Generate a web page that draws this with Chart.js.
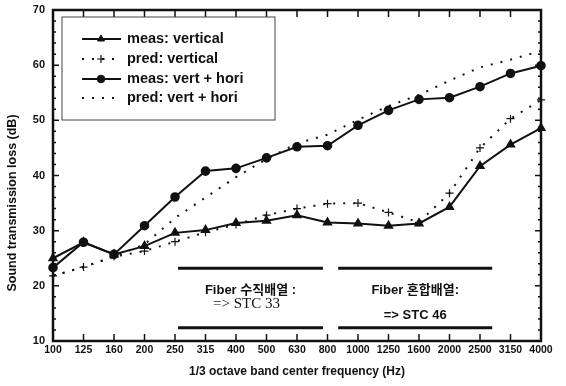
<!DOCTYPE html>
<html>
<head>
<meta charset="utf-8">
<script src="https://cdn.jsdelivr.net/npm/chart.js@4.4.1/dist/chart.umd.min.js"></script>
<style>
  html, body { margin: 0; padding: 0; background: #fff; }
  #wrap { width: 566px; height: 386px; }
</style>
</head>
<body>
<div id="wrap"><canvas id="tlChart"></canvas></div>
<script>
// 1/3 octave band centre frequencies
const freqLabels = ["100", "125", "160", "200", "250", "315", "400", "500", "630",
                    "800", "1000", "1250", "1600", "2000", "2500", "3150", "4000"];

// sound transmission loss (dB)
const measVertical = [25.0, 27.9, 25.7, 27.2, 29.6, 30.1, 31.4, 31.8, 32.8, 31.5, 31.3, 30.9, 31.3, 34.3, 41.7, 45.6, 48.6];
const predVertical = [21.8, 23.4, 25.3, 26.3, 28.0, 29.7, 31.1, 32.8, 34.0, 34.9, 35.0, 33.3, 31.5, 36.8, 45.0, 50.3, 53.7];
const measVertHori = [23.3, 27.9, 25.7, 30.9, 36.1, 40.8, 41.3, 43.2, 45.2, 45.4, 49.1, 51.8, 53.8, 54.1, 56.1, 58.5, 59.9];
const predVertHori = [21.8, 23.4, 25.3, 27.5, 32.3, 36.0, 39.7, 43.0, 45.8, 47.4, 50.1, 52.6, 54.6, 57.2, 59.6, 61.0, 62.6];

const seriesNames = ["meas: vertical", "pred: vertical", "meas: vert + hori", "pred: vert + hori"];
const yTitle = "Sound transmission loss (dB)";

// text boxes inside the plot
const noteLines = [
  ["Fiber 수직배열 :", "=> STC 33"],
  ["Fiber 혼합배열:", "=> STC 46"]
];

const INK = "#111";
const FONT = "'Liberation Sans', Arial, 'Noto Sans CJK KR', sans-serif";

// frame, inner ticks, y title, legend box and the two STC notes
const decorPlugin = {
  id: "decor",
  afterDraw(chart) {
    const ctx = chart.ctx;
    const area = chart.chartArea;
    const xs = chart.scales.x;
    const ys = chart.scales.y;
    ctx.save();
    ctx.strokeStyle = INK;

    // ticks
    ctx.lineWidth = 1.5;
    ctx.beginPath();
    for (let i = 0; i < freqLabels.length; i++) {
      const px = xs.getPixelForValue(i);
      ctx.moveTo(px, area.bottom); ctx.lineTo(px, area.bottom - 7);
      ctx.moveTo(px, area.top); ctx.lineTo(px, area.top + 7);
    }
    for (let v = 10; v <= 70; v += 2) {
      const py = ys.getPixelForValue(v);
      const len = v % 10 === 0 ? 6 : 3;
      ctx.moveTo(area.left, py); ctx.lineTo(area.left + len, py);
      ctx.moveTo(area.right, py); ctx.lineTo(area.right - len, py);
    }
    ctx.stroke();

    // frame
    ctx.lineWidth = 2.5;
    ctx.strokeRect(area.left, area.top, area.right - area.left, area.bottom - area.top);

    // y axis title
    ctx.save();
    ctx.translate(13, 203);
    ctx.rotate(-Math.PI / 2);
    ctx.fillStyle = INK;
    ctx.font = "bold 12.5px " + FONT;
    ctx.textAlign = "center";
    ctx.textBaseline = "middle";
    ctx.fillText(yTitle, 0, 0);
    ctx.restore();

    // legend
    const lx = 62, ly = 17, lw = 213, lh = 103;
    ctx.lineWidth = 1;
    ctx.strokeStyle = "#444";
    ctx.strokeRect(lx, ly, lw, lh);
    const rowY = [39, 59, 79, 98];
    chart.data.datasets.forEach((ds, i) => {
      const y = rowY[i];
      ctx.save();
      ctx.strokeStyle = ds.borderColor;
      ctx.lineWidth = ds.borderWidth;
      ctx.setLineDash(ds.borderDash || []);
      ctx.beginPath();
      ctx.moveTo(82, y); ctx.lineTo(121, y);
      ctx.stroke();
      ctx.setLineDash([]);
      if (ds.pointRadius > 0) {
        ctx.fillStyle = ds.pointBackgroundColor;
        ctx.strokeStyle = ds.pointBorderColor;
        ctx.lineWidth = ds.pointBorderWidth || 1;
        Chart.helpers.drawPoint(ctx, {
          pointStyle: ds.pointStyle,
          radius: ds.pointRadius,
          borderWidth: ds.pointBorderWidth || 1,
          rotation: 0
        }, 101, y);
      }
      ctx.restore();
      ctx.fillStyle = INK;
      ctx.font = "bold 14.5px " + FONT;
      ctx.textBaseline = "middle";
      ctx.textAlign = "left";
      ctx.fillText(ds.label, 127, y);
    });

    // STC notes: bars across the bands they cover
    ctx.strokeStyle = INK;
    ctx.fillStyle = INK;
    ctx.lineWidth = 3;
    const spans = [[4.1, 8.85], [9.35, 14.4]];
    const yTop = ys.getPixelForValue(23.2);
    const yBot = ys.getPixelForValue(12.4);
    spans.forEach((s, i) => {
      const x0 = xs.getPixelForValue(s[0]);
      const x1 = xs.getPixelForValue(s[1]);
      ctx.beginPath();
      ctx.moveTo(x0, yTop); ctx.lineTo(x1, yTop);
      ctx.moveTo(x0, yBot); ctx.lineTo(x1, yBot);
      ctx.stroke();
      const cx = (x0 + x1) / 2;
      ctx.textAlign = "center";
      ctx.textBaseline = "middle";
      ctx.font = "bold 13px " + FONT;
      ctx.fillText(noteLines[i][0], cx, 290);
      if (i === 0) {
        ctx.font = "15px 'Liberation Serif', 'Times New Roman', serif";
        ctx.fillText(noteLines[i][1], cx - 4, 304);
      } else {
        ctx.font = "bold 13px " + FONT;
        ctx.fillText(noteLines[i][1], cx, 315);
      }
    });
    ctx.restore();
  }
};

const ctx = document.getElementById("tlChart").getContext("2d");
new Chart(ctx, {
  type: "line",
  data: {
    labels: freqLabels,
    datasets: [{
      label: seriesNames[0],
      data: measVertical,
      borderColor: INK,
      borderWidth: 2,
      pointStyle: "triangle",
      pointRadius: 4,
      pointBackgroundColor: INK,
      pointBorderColor: INK,
      tension: 0
    }, {
      label: seriesNames[1],
      data: predVertical,
      borderColor: INK,
      borderWidth: 2,
      borderDash: [2, 8],
      pointStyle: "cross",
      pointRadius: 4,
      pointBorderWidth: 1.2,
      pointBackgroundColor: INK,
      pointBorderColor: INK,
      tension: 0
    }, {
      label: seriesNames[2],
      data: measVertHori,
      borderColor: INK,
      borderWidth: 2,
      pointStyle: "circle",
      pointRadius: 3.8,
      pointBackgroundColor: INK,
      pointBorderColor: INK,
      tension: 0
    }, {
      label: seriesNames[3],
      data: predVertHori,
      borderColor: INK,
      borderWidth: 2,
      borderDash: [2, 8],
      pointRadius: 0,
      tension: 0
    }]
  },
  options: {
    responsive: true,
    maintainAspectRatio: false,
    animation: false,
    devicePixelRatio: 1,
    layout: { padding: { top: 10, right: 25, left: 0, bottom: 0 } },
    plugins: {
      legend: { display: false },
      tooltip: { enabled: false }
    },
    scales: {
      x: {
        type: "category",
        offset: false,
        grid: { display: false, drawTicks: false },
        border: { display: false },
        afterFit: s => { s.height = 45; },
        ticks: {
          autoSkip: false,
          maxRotation: 0,
          padding: 3,
          color: INK,
          font: { family: FONT, size: 10.5, weight: "bold" }
        },
        title: {
          display: true,
          text: "1/3 octave band center frequency (Hz)",
          color: INK,
          padding: { top: 0, bottom: 7 },
          font: { family: FONT, size: 12, weight: "bold" }
        }
      },
      y: {
        min: 10,
        max: 70,
        grid: { display: false },
        border: { display: false },
        afterFit: s => { s.width = 53; },
        ticks: {
          stepSize: 10,
          padding: 0,
          color: INK,
          font: { family: FONT, size: 11, weight: "bold" }
        }
      }
    }
  },
  plugins: [decorPlugin]
});
</script>
</body>
</html>
